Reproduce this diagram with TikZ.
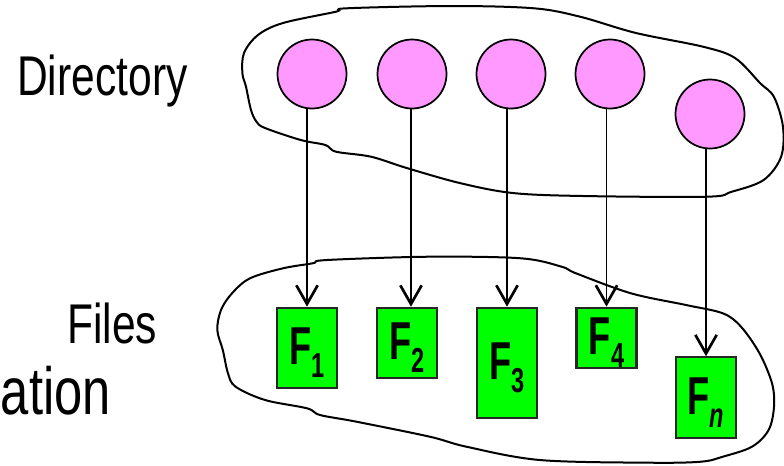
\documentclass[tikz,border=0pt]{standalone}
\usepackage{fontspec}
\setmainfont{Liberation Sans}
\newfontfamily\narrowfont[FakeStretch=0.76]{Liberation Sans}
\newfontfamily\boxfont[FakeStretch=0.68]{Liberation Sans}
\usetikzlibrary{arrows.meta}
\definecolor{dirpink}{RGB}{255,153,255}
\definecolor{filegreen}{RGB}{0,255,0}
\newcommand\fsub[1]{\raisebox{-9.5pt}{\fontsize{26pt}{26pt}\selectfont #1}}
\begin{document}
\begin{tikzpicture}[x=0.75pt,y=-0.75pt,
  blob/.style={draw=black, line width=1.5pt},
  dirnode/.style={circle, draw=black, line width=1.3pt, fill=dirpink, minimum size=51.75pt, inner sep=0pt},
  filebox/.style={rectangle, draw=black!85, line width=1.6pt, fill=filegreen, minimum width=45pt, inner sep=0pt,
     font=\boxfont\bfseries\fontsize{40pt}{40pt}\selectfont, text height=28.6pt, text depth=3pt},
  link/.style={line width=1.1pt, -{Straight Barb[length=14pt,width=16pt,line width=2pt]}},
  lbl/.style={inner sep=0pt, font=\narrowfont\fontsize{42pt}{43pt}\selectfont},
  biglbl/.style={inner sep=0pt, font=\narrowfont\fontsize{50pt}{51pt}\selectfont}]
\useasboundingbox (0,0) rectangle (784,465);

% directory blob
\draw[blob] plot[smooth cycle, tension=0.55] coordinates {
 (242.4,73.3) (244,53) (258,35) (283,23) (336,11.7) (346.6,8.3) (452.6,6) (534,8.3)
 (580,16.7) (636,33) (703,46.7) (735,58) (760,83) (774,97) (783,127) (781,157)
 (763.6,180) (731.8,191.7) (707,196.7) (583,196) (512.7,193) (459.7,183) (406.7,168)
 (371,156.7) (336,151.7) (325.4,145) (300.7,140) (265,128) (256.5,121.7) (251,110) (246,86.7)};

% files blob
\draw[blob] plot[smooth cycle, tension=0.55] coordinates {
 (217.3,330) (221,310) (232,293.3) (250,278.3) (283,268.3) (312.6,263.3) (327,260)
 (429.8,256.7) (521,258.3) (561.6,266.7) (576,273.3) (631,293.3) (686,305) (722.8,313.3)
 (741,326.7) (759.5,353.3) (772,383.3) (774,406.7) (768.6,430) (752,446.7) (722.8,456.7)
 (700.8,461.7) (649.6,462.7) (539.7,460) (466.4,446.7) (429.8,436.7) (356.5,421.7)
 (320,415) (307,408.3) (265,400) (235.6,386.7) (228,373.3) (222.8,350)};

% labels
\node[lbl, anchor=base west] (dir) at (17,95) {Directory};
\node[lbl, anchor=base west] (files) at (67,343) {Files};
\node[biglbl, anchor=base east] (ation) at (111,414) {ation};

% directory entries
\node[dirnode] (c1) at (312,74) {};
\node[dirnode] (c2) at (412,74) {};
\node[dirnode] (c3) at (511,74) {};
\node[dirnode] (c4) at (610,74) {};
\node[dirnode] (c5) at (710,114) {};

% files
\node[filebox, minimum height=60pt] (f1) at (307,347.7) {F\fsub{1}};
\node[filebox, minimum height=52.7pt] (f2) at (407,342.9) {F\fsub{2}};
\node[filebox, minimum height=82.5pt] (f3) at (507,362.7) {F\fsub{3}};
\node[filebox, minimum height=45pt] (f4) at (606.5,337.7) {F\fsub{4}};
\node[filebox, minimum height=60.3pt] (fn) at (706,397.5) {F\fsub{\textit{n}}};

% links
\draw[link] (f1.north |- c1.south) -- (f1.north);
\draw[link] ([xshift=3pt]f2.north |- c2.south) -- ([xshift=3pt]f2.north);
\draw[link] (f3.north |- c3.south) -- (f3.north);
\draw[link] (f4.north |- c4.south) -- (f4.north);
\draw[link] (fn.north |- c5.south) -- (fn.north);
\end{tikzpicture}
\end{document}
